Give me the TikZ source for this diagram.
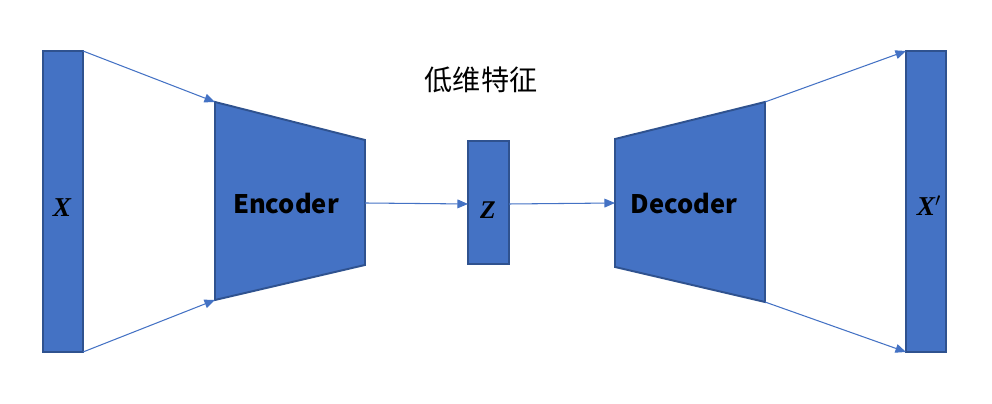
\documentclass[tikz,border=0pt]{standalone}
\usepackage{fontspec}
\usetikzlibrary{arrows.meta}
\newfontfamily\cjk{Noto Sans CJK SC}
\newfontfamily\symfont{Liberation Serif}
\begin{document}
\begin{tikzpicture}[x=0.02cm,y=-0.02cm]
            \definecolor{cl1}{HTML}{4472C4}
            \definecolor{cl2}{HTML}{2F528F}
            \tikzset{
                block/.style={draw=cl2, fill=cl1, line width=1.1pt, line join=miter},
                link/.style={draw=cl1, line width=0.6pt, -{Triangle[length=6pt,width=5pt]}},
                word/.style={font=\cjk\bfseries\fontsize{14.5}{17}\selectfont},
                sym/.style={font=\symfont\bfseries\itshape\fontsize{15.5}{18}\selectfont}
            }
            \useasboundingbox (0,0) rectangle (992,404);
            % corners
            \coordinate (x-tl)   at ( 43, 51); \coordinate (x-br)   at ( 83,352);
            \coordinate (x-tr)   at ( 83, 51); \coordinate (x-brr)  at ( 83,352);
            \coordinate (enc-tl) at (215,102); \coordinate (enc-bl) at (215,300);
            \coordinate (enc-tr) at (365,140); \coordinate (enc-br) at (365,265);
            \coordinate (z-tl)   at (468,141); \coordinate (z-br)   at (509,264);
            \coordinate (dec-tl) at (615,139); \coordinate (dec-bl) at (615,267);
            \coordinate (dec-tr) at (765,102); \coordinate (dec-br) at (765,302);
            \coordinate (xp-tl)  at (906, 51); \coordinate (xp-br)  at (946,352);
            \coordinate (xp-bl)  at (906,352);
            % shapes
            \draw[block] (x-tl) rectangle (x-br);
            \draw[block] (enc-tl) -- (enc-tr) -- (enc-br) -- (enc-bl) -- cycle;
            \draw[block] (z-tl) rectangle (z-br);
            \draw[block] (dec-tl) -- (dec-tr) -- (dec-br) -- (dec-bl) -- cycle;
            \draw[block] (xp-tl) rectangle (xp-br);
            % texts
            \node[sym]  (x)   at ( 62,208) {X};
            \node[word] (enc) at (286,204) {Encoder};
            \node[sym, font=\symfont\bfseries\itshape\fontsize{14.5}{17}\selectfont] (z) at (488,210) {Z};
            \node[word] (dec) at (684,204) {Decoder};
            \node[sym]  (xp)  at (929,206) {X$'$};
            \node[font=\cjk\fontsize{16}{19}\selectfont] (low) at (481,80) {低维特征};
            % links
            \coordinate (enc-r) at (365,203); \coordinate (z-l) at (468,204);
            \coordinate (z-r)   at (509,204); \coordinate (dec-l) at (615,203);
            \draw[link] (x-tr) -- (enc-tl);
            \draw[link] (x-brr) -- (enc-bl);
            \draw[link] (enc-r) -- (z-l);
            \draw[link] (z-r) -- (dec-l);
            \draw[link] (dec-tr) -- (xp-tl);
            \draw[link] (dec-br) -- (xp-bl);
        \end{tikzpicture}
\end{document}
